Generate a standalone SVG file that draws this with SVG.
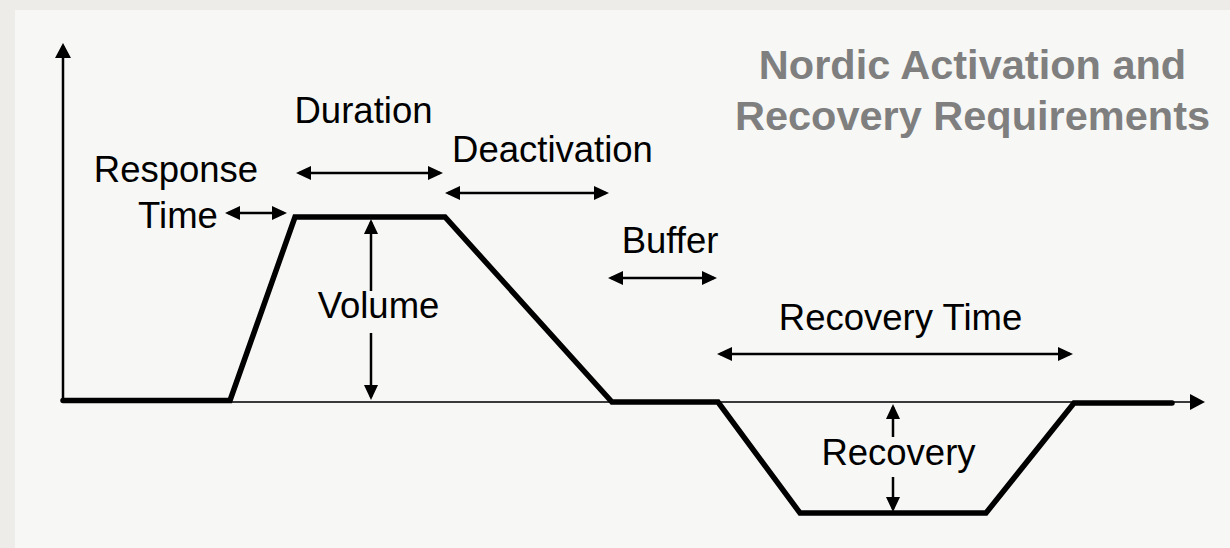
<svg xmlns="http://www.w3.org/2000/svg" width="1230" height="548" viewBox="0 0 1230 548">
  <style>
    .lbl { font-family: "Liberation Sans", Arial, sans-serif; font-size: 36.5px; fill: #000; text-anchor: middle; }
    .title { font-family: "Liberation Sans", Arial, sans-serif; font-size: 41.5px; font-weight: bold; fill: #7f7f7f; text-anchor: middle; }
    .dim { stroke: #000; stroke-width: 2.5; fill: none; }
    .axis { stroke: #000; stroke-width: 2.5; fill: none; }
    .xaxis { stroke: #3a3a3a; stroke-width: 2; fill: none; }
    .trace { stroke: #000; stroke-width: 5.5; fill: none; stroke-linecap: round; stroke-linejoin: miter; }
  </style>
  <defs>
    <marker id="dimHead" markerUnits="userSpaceOnUse" markerWidth="15" markerHeight="14" refX="12" refY="7" orient="auto-start-reverse">
      <path d="M0,0 L15,7 L0,14 Z" fill="#000"/>
    </marker>
    <marker id="axisHead" markerUnits="userSpaceOnUse" markerWidth="15" markerHeight="16" refX="12" refY="8" orient="auto">
      <path d="M0,0 L15,8 L0,16 Z" fill="#000"/>
    </marker>
  </defs>

  <!-- page background -->
  <rect x="0" y="0" width="1230" height="548" fill="#edece8"/>
  <rect x="15" y="10" width="1215" height="538" fill="#f7f7f5"/>

  <!-- axes and power trace -->
  <g id="axes">
    <line class="axis" x1="63" y1="401" x2="63" y2="46" marker-end="url(#axisHead)"/>
    <line class="xaxis" x1="63" y1="402" x2="1202" y2="402" marker-end="url(#axisHead)"/>
  </g>
  <g id="trace">
    <polyline class="trace" points="63,400.5 230,400.5 295,217 445,217 612,402 718,402 800,513 986,513 1074,403 1172,403"/>
  </g>

  <!-- dimension arrows -->
  <g id="connectors">
    <line class="dim" x1="228" y1="213" x2="284" y2="213" marker-start="url(#dimHead)" marker-end="url(#dimHead)"/>
    <line class="dim" x1="299" y1="173" x2="440" y2="173" marker-start="url(#dimHead)" marker-end="url(#dimHead)"/>
    <line class="dim" x1="448" y1="193" x2="606" y2="193" marker-start="url(#dimHead)" marker-end="url(#dimHead)"/>
    <line class="dim" x1="611" y1="278" x2="714" y2="278" marker-start="url(#dimHead)" marker-end="url(#dimHead)"/>
    <line class="dim" x1="720" y1="354" x2="1070" y2="354" marker-start="url(#dimHead)" marker-end="url(#dimHead)"/>
    <line class="dim" x1="371" y1="222" x2="371" y2="291" marker-start="url(#dimHead)"/>
    <line class="dim" x1="371" y1="333" x2="371" y2="397" marker-end="url(#dimHead)"/>
    <line class="dim" x1="893" y1="407" x2="893" y2="437" marker-start="url(#dimHead)"/>
    <line class="dim" x1="893" y1="477" x2="893" y2="509" marker-end="url(#dimHead)"/>
  </g>

  <!-- labels -->
  <g id="title">
    <text class="title" x="972.5" y="79">Nordic Activation and</text>
    <text class="title" x="972.5" y="130">Recovery Requirements</text>
  </g>
  <g id="response-time">
    <text class="lbl" x="176" y="182">Response</text>
    <text class="lbl" x="178" y="228">Time</text>
  </g>
  <g id="duration"><text class="lbl" x="363.5" y="123">Duration</text></g>
  <g id="deactivation"><text class="lbl" x="552.5" y="162">Deactivation</text></g>
  <g id="volume"><text class="lbl" x="378.5" y="318">Volume</text></g>
  <g id="buffer"><text class="lbl" x="670" y="253">Buffer</text></g>
  <g id="recovery-time"><text class="lbl" x="900.5" y="330">Recovery Time</text></g>
  <g id="recovery"><text class="lbl" x="898.5" y="465">Recovery</text></g>
</svg>
